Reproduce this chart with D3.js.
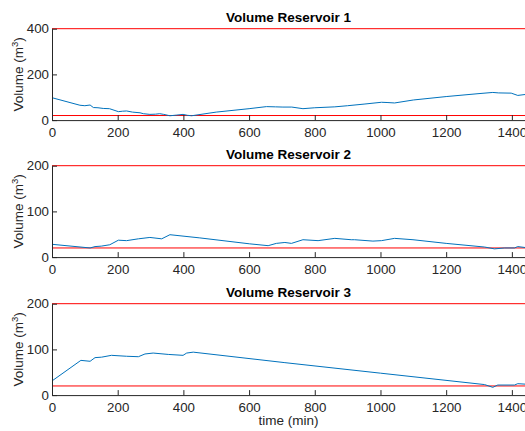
<!DOCTYPE html>
<html>
<head>
<meta charset="UTF-8">
<script src="https://d3js.org/d3.v7.min.js"></script>
<style>
  body { margin: 0; background: #fff; }
  text { font-family: "Liberation Sans", Arial, Helvetica, sans-serif; }
</style>
</head>
<body>
<svg id="canvas"></svg>
<script>
width = 525;
height = 431;

// time axis
xTicks = [0, 200, 400, 600, 800, 1000, 1200, 1400];

// reservoir 1
t1 = [0, 85, 100, 116, 126, 140, 156, 175, 202, 215, 227, 245, 268, 278, 298, 315, 328, 340, 359, 380, 399, 412, 425,
      500, 600, 653, 680, 703, 730, 764, 800, 861, 900, 950, 1003, 1020, 1043, 1100, 1200, 1300, 1342, 1360, 1398, 1418, 1440];
v1 = [98, 65, 63, 66, 55, 54, 51, 50, 37, 39, 40, 35, 32, 28, 25, 26, 28, 25, 19, 22, 25, 21, 19,
      35, 50, 59, 58, 57, 57, 50, 54, 58, 63, 70, 78, 77, 75, 88, 103, 116, 121, 119, 118, 108, 112];

// reservoir 2
t2 = [0, 116, 131, 150, 176, 202, 227, 263, 298, 334, 359, 450, 602, 658, 683, 709, 729, 764, 810, 861, 911, 921, 977,
      1003, 1043, 1099, 1200, 1317, 1347, 1378, 1408, 1418, 1440];
v2 = [28, 20, 23, 24, 27, 37, 36, 40, 43, 40, 49, 42, 29, 25, 30, 32, 30, 38, 36, 41, 38, 38, 35,
      36, 41, 38, 30, 22, 18, 20, 20, 23, 21];

// reservoir 3
t3 = [0, 88, 116, 131, 151, 181, 227, 263, 283, 308, 354, 399, 410, 430, 709, 1000, 1317, 1342, 1357, 1408, 1418, 1440];
v3 = [31, 76, 74, 82, 83, 87, 85, 84, 90, 92, 89, 87, 92, 94, 71, 48, 23, 17, 22, 22, 25, 24];

minVol = 20;
maxVol = [400, 200, 200];
yTicks = [[0, 200, 400], [0, 100, 200], [0, 100, 200]];
titles = ["Volume Reservoir 1", "Volume Reservoir 2", "Volume Reservoir 3"];

series = [
  {t: t1, v: v1},
  {t: t2, v: v2},
  {t: t3, v: v3}
];

left = 52;
right = 525;
tops = [28.7, 165.7, 303.7];
ph = 91.4;

axisColor = "#262626";

canvas = d3.select("#canvas")
  .attr("width", width)
  .attr("height", height);

x = d3.scaleLinear().domain([0, 1440]).range([left, right]);

series.forEach((s, i) => {
  y = d3.scaleLinear().domain([0, maxVol[i]]).range([tops[i] + ph, tops[i]]);
  g = canvas.append("g");

  pts = s.t.map((t, k) => [t, s.v[k]]);

  // limit lines
  [minVol, maxVol[i]].forEach(lim => {
    g.append("line")
      .attr("x1", x(0)).attr("x2", x(1440))
      .attr("y1", y(lim)).attr("y2", y(lim))
      .attr("stroke", "#ff0000").attr("stroke-width", 1);
  });

  g.append("path")
    .datum(pts)
    .attr("d", d3.line().x(d => x(d[0])).y(d => y(d[1])))
    .attr("fill", "none")
    .attr("stroke", "#0072BD")
    .attr("stroke-width", 1);

  // axes (ticks inward, matlab style)
  xa = g.append("g")
    .attr("transform", "translate(0," + y(0) + ")")
    .call(d3.axisBottom(x).tickValues(xTicks).tickFormat(d3.format("d"))
      .tickSizeInner(-5).tickSizeOuter(0).tickPadding(7));
  ya = g.append("g")
    .attr("transform", "translate(" + x(0) + ",0)")
    .call(d3.axisLeft(y).tickValues(yTicks[i]).tickFormat(d3.format("d"))
      .tickSizeInner(-5).tickSizeOuter(0).tickPadding(3));
  [xa, ya].forEach(a => {
    a.select(".domain").attr("stroke", axisColor).attr("stroke-width", 1);
    a.selectAll(".tick line").attr("stroke", axisColor);
    a.selectAll(".tick text")
      .attr("fill", axisColor)
      .style("font-size", "13.3px")
      .style("font-family", "'Liberation Sans', Arial, sans-serif");
  });

  g.append("text")
    .attr("x", (left + right) / 2)
    .attr("y", tops[i] - 7)
    .attr("text-anchor", "middle")
    .style("font-size", "13.5px")
    .style("font-weight", "bold")
    .attr("fill", "#000")
    .text(titles[i]);

  yl = g.append("text")
    .attr("transform", "translate(23," + (tops[i] + ph / 2) + ") rotate(-90)")
    .attr("text-anchor", "middle")
    .attr("fill", axisColor)
    .style("font-size", "13.5px");
  yl.append("tspan").text("Volume (m");
  yl.append("tspan").attr("dy", -5).style("font-size", "9.5px").text("3");
  yl.append("tspan").attr("dy", 5).text(")");
});

canvas.append("text")
  .attr("x", (left + right) / 2)
  .attr("y", 425)
  .attr("text-anchor", "middle")
  .attr("fill", axisColor)
  .style("font-size", "13.5px")
  .text("time (min)");
</script>
</body>
</html>
